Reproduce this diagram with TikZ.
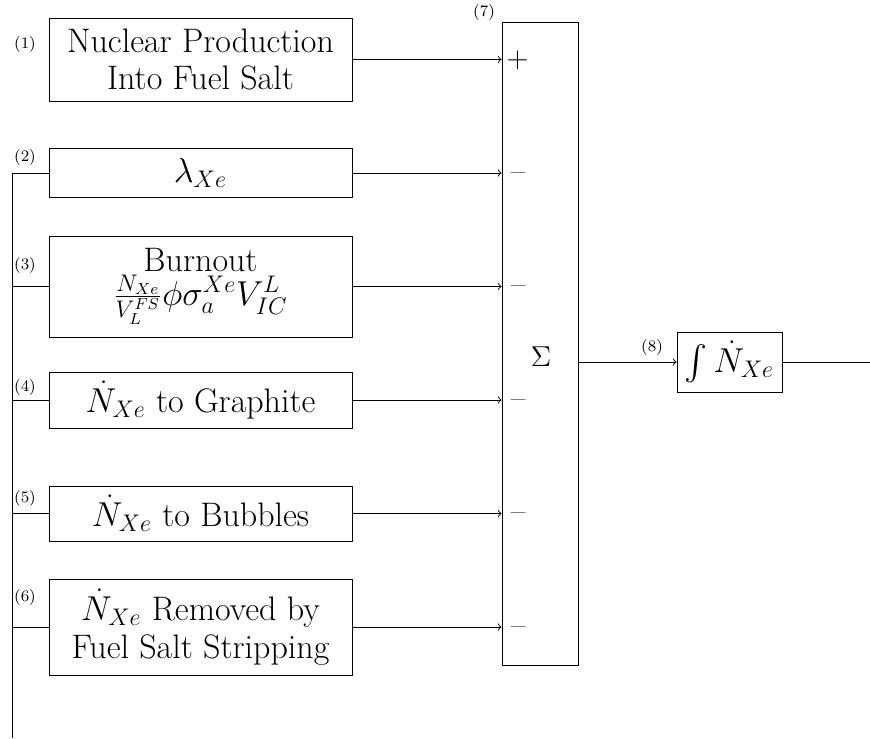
\documentclass[tikz,border=0pt]{standalone}
\usepackage{amsmath}
\begin{document}
\begin{tikzpicture}[x=0.5pt,y=-0.5pt,line width=0.45pt,
  blk/.style={draw, minimum width=151.5pt, align=center, inner sep=2pt, font=\fontsize{17}{18.8}\selectfont},
  num/.style={font=\fontsize{8}{9}\selectfont, inner sep=0pt},
  sgn/.style={font=\fontsize{15.7}{18.5}\selectfont, inner sep=0pt},
  conn/.style={->}]
\useasboundingbox (0,0) rectangle (870,738);
% blocks
\node[blk, minimum height=41.5pt] (b1) at (200.5,59.5) {Nuclear Production\\Into Fuel Salt};
\node[blk, minimum height=24.5pt] (b2) at (200.5,173) {$\lambda_{Xe}$};
\node[blk, minimum height=50.5pt] (b3) at (200.5,286.5) {Burnout\\[-2pt]$\frac{N_{Xe}}{V_L^{FS}}\phi\sigma_a^{Xe}V_{IC}^L$};
\node[blk, minimum height=28pt] (b4) at (200.5,400) {$\dot{N}_{Xe}$ to Graphite};
\node[blk, minimum height=27.5pt] (b5) at (200.5,513.5) {$\dot{N}_{Xe}$ to Bubbles};
\node[blk, minimum height=48pt] (b6) at (200.5,627) {$\dot{N}_{Xe}$ Removed by\\Fuel Salt Stripping};
\node[draw, minimum width=38pt, minimum height=321.5pt, inner sep=0pt] (sum) at (540,343.5) {};
\node[sgn] (sig) at (541,357) {$\Sigma$};
\node[blk, minimum width=52.5pt, minimum height=30pt] (int) at (729.5,362) {$\int\dot{N}_{Xe}$};
% signs
\node[sgn] (s1) at (517.5,60) {$+$};
\node[sgn] (s2) at (518,177) {--};
\node[sgn] (s3) at (518,290) {--};
\node[sgn] (s4) at (518,404) {--};
\node[sgn] (s5) at (518,517) {--};
\node[sgn] (s6) at (518,631) {--};
% numbers
\node[num] (l1) at (25,45) {(1)};
\node[num] (l2) at (25,157) {(2)};
\node[num] (l3) at (25,265) {(3)};
\node[num] (l4) at (25,387) {(4)};
\node[num] (l5) at (25,498) {(5)};
\node[num] (l6) at (25,597) {(6)};
\node[num] (l7) at (484,13) {(7)};
\node[num] (l8) at (652,347) {(8)};
% connectors
\foreach \b in {b1,b2,b3,b4,b5,b6} \draw[conn] (\b.east) -- (\b.east -| sum.west);
\draw[conn] (sum.east |- int.west) -- (int.west);
\coordinate (out) at (870,362);
\draw (int.east) -- (out);
\coordinate (fbtop) at (12,173);
\coordinate (fbbot) at (12,738);
\draw (b2.west) -- (fbtop) -- (fbbot);
\foreach \b in {b3,b4,b5,b6} \draw (\b.west) -- (\b.west -| fbtop);
\end{tikzpicture}
\end{document}
